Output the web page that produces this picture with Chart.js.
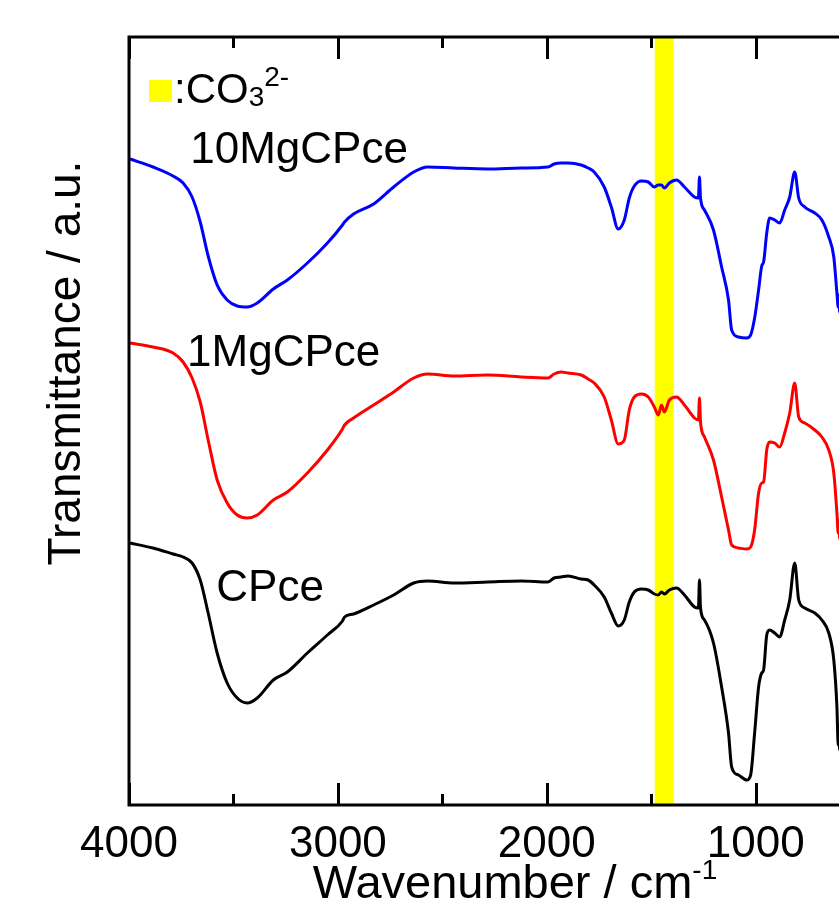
<!DOCTYPE html>
<html>
<head>
<meta charset="utf-8">
<script src="https://cdn.jsdelivr.net/npm/chart.js@4/dist/chart.umd.min.js"></script>
<style>
  html, body { margin: 0; padding: 0; background: #fff; overflow: hidden; }
  #wrap { width: 885px; height: 900px; }
</style>
</head>
<body>
<div id="wrap"><canvas id="ftir" width="885" height="900"></canvas></div>
<script>
// wavenumber grid (cm-1), shared by the three spectra
const wavenumbers = [3995, 3885, 3789, 3741, 3698, 3659, 3621, 3578, 3530, 3482, 3434, 3386, 3309, 3242, 3146, 3050,
  2978, 2968, 2925, 2829, 2733, 2637, 2570, 2445, 2282, 2123, 1994, 1965, 1931, 1898, 1835, 1802, 1773, 1725, 1691,
  1658, 1629, 1605, 1581, 1547, 1514, 1485, 1466, 1451, 1437, 1413, 1379, 1341, 1293, 1274, 1269, 1264, 1245, 1202,
  1163, 1130, 1115, 1082, 1043, 1024, 1005, 986, 971, 962, 947, 933, 909, 885, 861, 837, 813, 794, 765, 717, 683,
  650, 626, 611, 605, 602, 598, 594, 590];

// transmittance (a.u., stacked)
const mg10 = [646, 638, 629, 622, 608, 583, 549, 520, 505, 499, 498, 502, 516, 525, 542, 562,
  580, 583, 591, 601, 618, 633, 638, 637, 636, 637, 638, 641, 642, 642, 640, 637, 633, 618, 598,
  576, 585, 607, 619, 624, 623, 618, 620, 620, 617, 622, 625, 618, 608, 607, 628, 607, 595, 575,
  538, 505, 475, 468, 467, 470, 487, 515, 539, 543, 572, 587, 585, 582, 595, 608, 633, 607, 598, 592, 585,
  568, 548, 512, 498, 510, 493, 505, 495];

const mg1 = [462, 458, 452, 443, 427, 403, 365, 325, 302, 290, 287, 290, 305, 313, 332, 355,
  376, 380, 387, 400, 413, 427, 431, 429, 430, 428, 427, 431, 433, 432, 430, 426, 422, 408, 385,
  361, 365, 395, 408, 411, 408, 398, 390, 400, 393, 405, 408, 400, 387, 385, 407, 383, 368, 345,
  308, 275, 260, 257, 256, 258, 275, 312, 322, 323, 355, 363, 362, 358, 372, 392, 422, 388, 382, 375, 368,
  355, 332, 292, 272, 285, 266, 280, 268];

const cpce = [262, 257, 251, 248, 242, 225, 192, 152, 122, 107, 102, 107, 125, 133, 152, 170,
  184, 188, 191, 200, 210, 222, 224, 222, 223, 224, 223, 227, 228, 229, 226, 225, 220, 208, 192,
  179, 185, 203, 213, 216, 215, 211, 210, 213, 211, 215, 217, 210, 198, 197, 225, 197, 185, 162,
  118, 72, 38, 30, 25, 30, 72, 118, 132, 135, 170, 175, 172, 168, 185, 205, 242, 205, 197, 192, 185,
  172, 145, 98, 60, 80, 55, 75, 58];

const seriesNames = ['10MgCPce', '1MgCPce', 'CPce'];
const seriesColors = ['#0000ff', '#ff0000', '#000000'];
const carbonateBand = [1392, 1483];
const xTicksMajor = [4000, 3000, 2000, 1000];
const xTicksMinor = [3500, 2500, 1500, 500];

const FONT = '"Liberation Sans", Arial, Helvetica, sans-serif';

const toPoints = vals => vals.map((v, i) => ({ x: wavenumbers[i], y: v }));

// yellow band, frame, inward ticks and all axis / annotation text
const decor = {
  id: 'decor',
  beforeDatasetsDraw(chart) {
    const { ctx, chartArea: a, scales: { x } } = chart;
    const x1 = x.getPixelForValue(carbonateBand[0]);
    const x2 = x.getPixelForValue(carbonateBand[1]);
    ctx.save();
    ctx.fillStyle = '#ffff00';
    ctx.fillRect(Math.min(x1, x2), a.top, Math.abs(x2 - x1), a.bottom - a.top);
    ctx.restore();
  },
  afterDatasetsDraw(chart) {
    const { ctx, chartArea: a, scales: { x, y } } = chart;
    ctx.save();
    ctx.strokeStyle = '#000';
    ctx.lineWidth = 3;
    ctx.strokeRect(a.left, a.top, a.right - a.left, a.bottom - a.top);

    const tick = (v, len) => {
      const px = Math.round(x.getPixelForValue(v)) + 0.5;
      ctx.beginPath();
      ctx.moveTo(px, a.bottom); ctx.lineTo(px, a.bottom - len);
      ctx.moveTo(px, a.top); ctx.lineTo(px, a.top + len);
      ctx.stroke();
    };
    xTicksMajor.forEach(v => tick(v, 22));
    xTicksMinor.forEach(v => tick(v, 11));

    ctx.fillStyle = '#000';
    ctx.textBaseline = 'alphabetic';

    // tick labels under the major ticks
    ctx.font = '44px ' + FONT;
    ctx.textAlign = 'center';
    xTicksMajor.forEach(v => {
      ctx.fillText(String(v), x.getPixelForValue(v), a.bottom + 52);
    });

    // spectrum names
    ctx.textAlign = 'left';
    const labelAt = [[3707, 642], [3722, 439], [3582, 204]];
    seriesNames.forEach((name, i) => {
      ctx.fillText(name, x.getPixelForValue(labelAt[i][0]), y.getPixelForValue(labelAt[i][1]));
    });

    // carbonate key
    const kx = x.getPixelForValue(3904), ky = y.getPixelForValue(725);
    ctx.fillStyle = '#ffff00';
    ctx.fillRect(kx, ky, 23, 22);
    ctx.fillStyle = '#000';
    ctx.font = '42px ' + FONT;
    let tx = kx + 25;
    ctx.fillText(':CO', tx, ky + 23);
    tx += ctx.measureText(':CO').width;
    ctx.font = '28px ' + FONT;
    ctx.fillText('3', tx, ky + 26);
    tx += ctx.measureText('3').width;
    ctx.fillText('2-', tx, ky + 6);

    // axis titles
    ctx.font = '47px ' + FONT;
    const main = 'Wavenumber / cm';
    const wMain = ctx.measureText(main).width;
    ctx.font = '28px ' + FONT;
    const wSup = ctx.measureText('-1').width;
    const sx = a.left + 386 - (wMain + wSup) / 2;
    ctx.font = '47px ' + FONT;
    ctx.fillText(main, sx, 898);
    ctx.font = '28px ' + FONT;
    ctx.fillText('-1', sx + wMain, 879);

    ctx.font = '46px ' + FONT;
    ctx.textAlign = 'center';
    ctx.translate(80, 363);
    ctx.rotate(-Math.PI / 2);
    ctx.fillText('Transmittance / a.u.', 0, 0);
    ctx.restore();
  }
};

new Chart(document.getElementById('ftir'), {
  type: 'line',
  data: {
    datasets: [mg10, mg1, cpce].map((vals, i) => ({
      label: seriesNames[i],
      data: toPoints(vals),
      borderColor: seriesColors[i],
      borderWidth: 3,
      pointRadius: 0,
      fill: false,
      cubicInterpolationMode: 'monotone'
    }))
  },
  options: {
    responsive: false,
    animation: false,
    devicePixelRatio: 1,
    layout: { padding: { left: 129, top: 37, right: 4, bottom: 95 } },
    scales: {
      x: {
        type: 'linear',
        min: 400,
        max: 4000,
        reverse: true,
        grid: { display: false, drawTicks: false },
        border: { display: false },
        ticks: { display: false }
      },
      y: {
        display: false,
        min: 0,
        max: 768
      }
    },
    plugins: {
      legend: { display: false },
      tooltip: { enabled: false }
    }
  },
  plugins: [decor]
});
</script>
</body>
</html>
